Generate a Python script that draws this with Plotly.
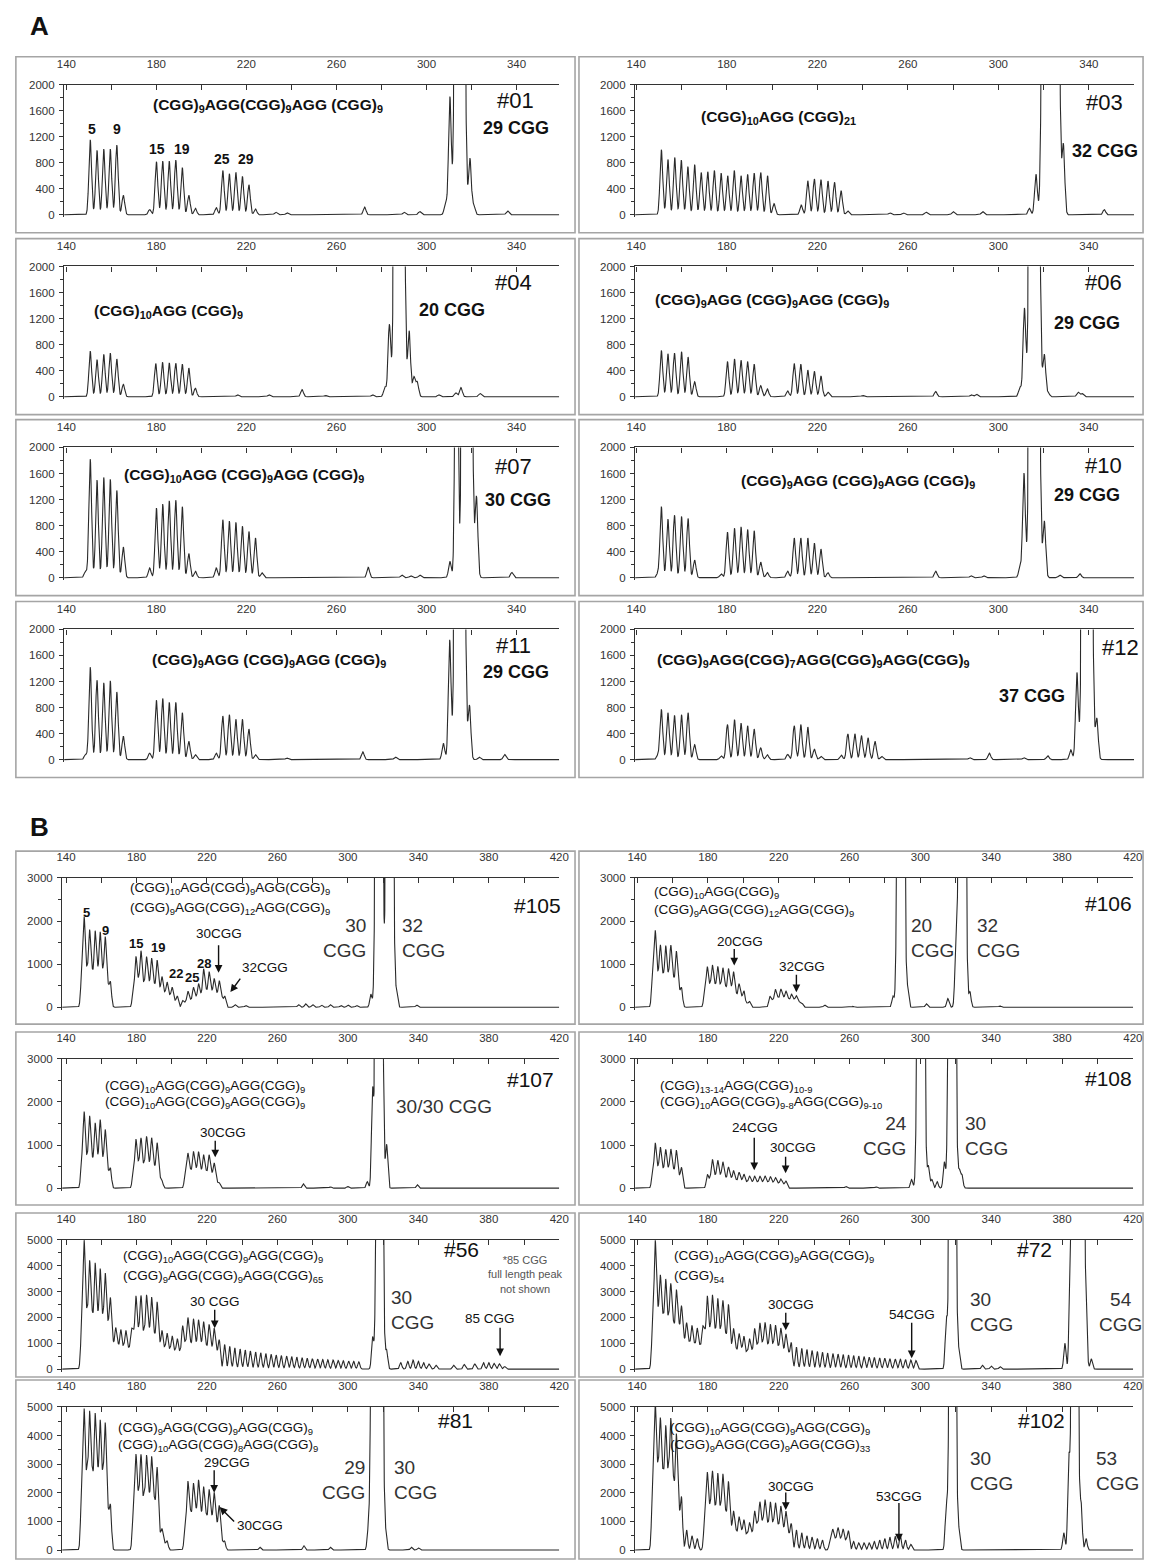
import numpy as np
import plotly.graph_objects as go

# ---------------------------------------------------------------
# Peak tables for each capillary electrophoresis trace
# (fragment size in bp, signal in RFU).  "ladder" = triplet-primed
# repeat ladder and minor peaks, "allele" = full-length (saturated) peaks.
# ---------------------------------------------------------------

# ---- panel A ----
p01_ladder_bp = [150.6, 153.6, 156.6, 159.5, 162.4, 165.3, 177.0, 180.0, 182.8, 185.7, 188.6, 191.5, 194.4, 197.3,
                 206.6, 209.5, 212.4, 215.3, 218.2, 221.1, 224.0, 233.0, 238.0, 272.5, 290.0, 297.0,
                 308.5, 310.4, 319.3, 321.0, 336.0]
p01_ladder_rfu = [1150, 990, 1010, 1010, 1070, 300, 80, 815, 825, 825, 840, 725, 300, 100,
                  110, 680, 630, 650, 590, 460, 90, 40, 30, 120, 40, 50,
                  200, 1800, 860, 150, 60]
p01_allele_bp = [314.8]
p01_allele_rfu = [40000]

p03_ladder_bp = [151.1, 154.0, 157.0, 159.9, 162.8, 165.8, 168.7, 171.6, 174.5, 177.5, 180.4, 183.3, 186.3, 189.2,
                 192.1, 195.0, 198.0, 200.9, 212.9, 215.8, 218.7, 221.6, 224.7, 227.6, 230.5, 233.4,
                 252.0, 258.0, 268.0, 280.0, 293.0, 313.7, 316.6, 328.7, 346.8]
p03_ladder_rfu = [1000, 850, 880, 840, 740, 770, 650, 660, 680, 640, 600, 680, 600, 620,
                  640, 650, 600, 170, 150, 520, 550, 540, 520, 500, 370, 60,
                  30, 30, 40, 50, 50, 100, 620, 1060, 80]
p03_allele_bp = [321.5, 324.6]
p03_allele_rfu = [40000, 40000]

p04_ladder_bp = [150.6, 153.6, 156.6, 159.5, 162.4, 165.3, 179.7, 182.7, 185.7, 188.6, 191.5, 194.4, 197.3,
                 216.0, 230.0, 244.7, 255.0, 276.0, 281.5, 283.5, 292.3, 294.4, 295.9, 305.6, 313.0, 315.3, 323.8]
p04_ladder_rfu = [700, 570, 650, 670, 580, 190, 510, 530, 520, 515, 500, 440, 130,
                  30, 30, 110, 20, 30, 150, 1100, 1000, 300, 220, 30, 60, 140, 50]
p04_allele_bp = [287.9]
p04_allele_rfu = [40000]

p06_ladder_bp = [151.1, 154.0, 156.9, 160.0, 162.9, 165.8, 180.3, 183.4, 186.3, 189.2, 192.1, 195.0, 197.9,
                 206.9, 209.8, 212.7, 215.8, 218.7, 221.6, 224.7, 240.0, 272.3, 288.0, 290.3,
                 309.5, 311.5, 320.3, 322.0, 335.2, 337.0]
p06_ladder_rfu = [710, 660, 670, 690, 610, 230, 540, 580, 560, 540, 500, 170, 120,
                  90, 510, 500, 410, 390, 320, 70, 20, 80, 30, 40,
                  150, 1350, 640, 60, 70, 50]
p06_allele_bp = [315.9]
p06_allele_rfu = [40000]

p07_ladder_bp = [148.5, 150.6, 153.6, 156.6, 159.5, 162.4, 165.3, 177.0, 180.0, 182.8, 185.7, 188.6, 191.5, 194.4,
                 197.3, 206.6, 209.5, 212.4, 215.3, 218.2, 221.1, 224.0, 226.9, 274.1, 289.0, 293.0, 297.0,
                 310.4, 313.3, 322.2, 337.9]
p07_ladder_rfu = [100, 1820, 1500, 1540, 1510, 1340, 470, 150, 1070, 1130, 1180, 1190, 1090, 370,
                  100, 150, 890, 870, 850, 790, 710, 610, 75, 160, 40, 30, 40,
                  250, 6000, 1230, 80]
p07_allele_bp = [318.0]
p07_allele_rfu = [40000]

p10_ladder_bp = [149.5, 151.1, 154.0, 156.9, 160.0, 162.9, 165.8, 177.5, 180.3, 183.4, 186.3, 189.2, 192.1, 195.0,
                 197.9, 206.9, 209.8, 212.7, 215.8, 218.7, 221.6, 224.7, 272.3, 287.9, 293.5,
                 309.5, 311.3, 320.3, 327.1, 336.0]
p10_ladder_rfu = [60, 1090, 900, 960, 940, 910, 270, 60, 700, 760, 780, 740, 720, 240,
                  80, 100, 610, 610, 610, 530, 440, 76, 100, 30, 30,
                  150, 1600, 860, 40, 60]
p10_allele_bp = [315.9]
p10_allele_rfu = [40000]

p11_ladder_bp = [148.5, 150.6, 153.6, 156.6, 159.5, 162.4, 165.3, 177.0, 180.0, 182.8, 185.7, 188.6, 191.5, 194.4,
                 197.3, 206.6, 209.5, 212.4, 215.3, 218.2, 221.1, 224.0, 238.0, 271.7, 286.2,
                 307.5, 310.3, 319.1, 323.4, 334.7]
p11_ladder_rfu = [80, 1420, 1220, 1180, 1210, 1040, 360, 100, 910, 940, 880, 880, 720, 280,
                  76, 100, 670, 690, 620, 620, 470, 76, 25, 120, 40,
                  250, 1830, 820, 40, 80]
p11_allele_bp = [314.8]
p11_allele_rfu = [40000]

p12_ladder_bp = [149.5, 151.1, 154.0, 156.9, 160.0, 162.9, 165.8, 177.5, 180.3, 183.4, 186.3, 189.2, 192.1, 195.0,
                 197.9, 206.9, 209.8, 212.7, 215.8, 218.7, 221.6, 230.6, 233.5, 236.6, 239.5, 242.4, 245.5, 248.4,
                 287.4, 296.0, 311.3, 321.8, 332.0, 334.7, 343.5]
p12_ladder_rfu = [60, 770, 720, 680, 690, 720, 230, 60, 540, 615, 560, 520, 470, 180,
                  77, 80, 520, 540, 500, 160, 50, 70, 395, 395, 370, 335, 280, 50,
                  30, 100, 30, 60, 150, 1330, 620]
p12_allele_bp = [339.2]
p12_allele_rfu = [40000]

# ---- panel B ----
p105_ladder_bp = [150.3, 153.4, 156.5, 159.4, 162.3, 165.2, 148.9, 151.9, 154.9, 157.9, 160.9, 163.8,
                  179.7, 182.6, 185.7, 188.6, 191.7, 194.5, 197.4, 200.3, 203.2,
                  178.2, 181.2, 184.2, 187.1, 190.1, 193.1, 196.0, 198.9, 201.8,
                  206.2, 209.2, 212.3, 215.2, 218.1, 221.2, 224.1, 227.0, 230.1,
                  207.7, 210.7, 213.7, 216.6, 219.6, 222.6, 225.5, 228.5,
                  236.0, 242.0, 272.0, 276.0, 280.0, 285.0, 290.0, 296.0, 300.0, 305.0,
                  313.0, 327.6, 339.0]
p105_ladder_rfu = [2020, 1720, 1690, 1670, 1560, 560, 700, 800, 750, 750, 700, 450,
                   1130, 1250, 1110, 1090, 1050, 670, 550, 440, 250,
                   400, 550, 500, 480, 470, 350, 280, 230, 120,
                   150, 360, 440, 520, 860, 790, 630, 590, 250,
                   100, 150, 200, 250, 350, 320, 270, 220,
                   60, 40, 60, 80, 60, 50, 60, 40, 50, 40,
                   300, 350, 50]
p105_allele_bp = [317.7, 323.7]
p105_allele_rfu = [40000, 40000]

p106_ladder_bp = [150.3, 153.2, 156.2, 159.1, 162.2, 165.1, 148.8, 151.8, 154.7, 157.7, 160.6, 163.6,
                  179.7, 182.6, 185.6, 188.5, 191.6, 194.5, 197.6, 200.4, 203.5,
                  178.2, 181.2, 184.1, 187.1, 190.0, 193.0, 196.0, 199.0, 202.0,
                  215.0, 218.1, 221.2, 224.1, 227.2, 230.0, 233.1, 216.5, 219.6, 222.6, 225.6, 228.6, 231.5,
                  245.9, 262.0, 284.5, 292.8, 303.4, 315.5, 320.0, 328.0, 345.0]
p106_ladder_rfu = [1710, 1360, 1360, 1360, 1250, 440, 700, 650, 650, 650, 600, 400,
                   900, 920, 900, 860, 850, 790, 520, 360, 130,
                   350, 450, 450, 430, 420, 400, 280, 200, 80,
                   250, 400, 400, 360, 290, 250, 90, 150, 200, 200, 180, 150, 120,
                   50, 20, 250, 400, 80, 200, 1170, 350, 30]
p106_allele_bp = [289.0, 323.6]
p106_allele_rfu = [40000, 40000]

p107_ladder_bp = [150.3, 153.4, 156.5, 159.4, 162.3, 165.2, 148.9, 151.9, 154.9, 157.9, 160.9, 163.8,
                  179.7, 182.6, 185.7, 188.6, 191.7, 194.5, 178.2, 181.2, 184.2, 187.1, 190.1, 193.1,
                  209.2, 212.3, 215.2, 218.1, 221.2, 224.1, 227.0, 207.7, 210.7, 213.7, 216.6, 219.6, 222.6, 225.5,
                  274.7, 290.0, 300.0, 311.0, 314.0, 322.0, 339.4]
p107_ladder_rfu = [1710, 1610, 1450, 1530, 1300, 440, 600, 650, 600, 600, 550, 350,
                   1090, 1110, 1140, 1120, 1020, 160, 400, 500, 500, 480, 450, 250,
                   780, 810, 800, 740, 740, 560, 120, 300, 380, 380, 350, 350, 300, 150,
                   100, 30, 40, 150, 2200, 1000, 80]
p107_allele_bp = [317.7]
p107_allele_rfu = [40000]

p108_ladder_bp = [150.3, 153.2, 156.2, 159.1, 162.2, 165.1, 148.8, 151.8, 154.7, 157.7, 160.6, 163.6,
                  179.7, 182.6, 185.6, 188.5, 191.6, 194.5, 197.6, 200.4, 203.5, 206.4, 209.4, 212.3, 215.3,
                  218.2, 221.2, 224.1,
                  181.2, 184.1, 187.1, 190.0, 193.0, 196.0, 199.0, 202.0, 204.9, 207.9, 210.9, 213.8, 216.8,
                  219.7, 222.6,
                  258.0, 275.0, 295.0, 304.5, 306.5, 309.5, 313.5, 322.0, 323.5]
p108_ladder_rfu = [1010, 900, 860, 860, 850, 470, 350, 400, 380, 380, 380, 250,
                   310, 640, 620, 580, 470, 390, 350, 310, 270, 270, 270, 270, 260,
                   230, 200, 160,
                   200, 250, 250, 220, 200, 170, 150, 130, 120, 120, 120, 120, 110,
                   100, 80,
                   40, 30, 200, 500, 200, 150, 600, 400, 300]
p108_allele_bp = [300.3, 317.9]
p108_allele_rfu = [40000, 40000]

p56_ladder_bp = [150.3, 153.4, 156.5, 159.4, 162.3, 165.2, 148.9, 151.9, 154.9, 157.9, 160.9, 163.8,
                 168.2, 171.1, 174.0, 177.0, 166.7, 169.6, 172.6, 175.5,
                 179.7, 182.6, 185.7, 188.6, 191.7, 194.5, 197.4, 200.3, 203.2,
                 178.2, 181.2, 184.2, 187.1, 190.1, 193.1, 196.0, 198.9, 201.8,
                 206.2, 209.2, 212.3, 215.2, 218.1, 221.2, 224.1, 227.0,
                 204.7, 207.7, 210.7, 213.7, 216.6, 219.6, 222.6, 225.5,
                 230.0, 232.9, 235.8, 238.8, 241.7, 244.6, 247.6, 250.5, 253.4, 256.4,
                 259.3, 262.2, 265.2, 268.1, 271.0, 274.0, 276.9, 279.8, 282.8, 285.7,
                 288.6, 291.6, 294.5, 297.4, 300.4, 303.3, 306.2,
                 314.0, 322.0,
                 330.0, 334.0, 337.0, 340.0, 343.0, 346.0, 350.0, 360.0, 366.0, 372.0, 377.0, 380.0, 383.0,
                 386.0, 389.0]
p56_ladder_rfu = [4800, 4000, 3900, 3700, 3500, 2600, 1500, 2000, 1900, 1800, 1700, 1500,
                  1500, 1450, 1400, 1300, 900, 800, 750, 700,
                  2700, 2700, 2700, 2650, 2500, 1400, 1300, 1200, 1100,
                  1200, 1300, 1300, 1300, 1200, 800, 700, 650, 600,
                  1600, 1900, 1850, 1800, 1750, 1650, 1500, 1100,
                  600, 900, 900, 850, 850, 800, 700, 600,
                  950, 880, 820, 780, 740, 700, 660, 630, 600, 570,
                  540, 520, 500, 480, 460, 440, 420, 400, 390, 370,
                  360, 350, 330, 320, 310, 300, 280,
                  1200, 700,
                  250, 300, 350, 300, 250, 200, 150, 150, 180, 200, 250, 250, 220,
                  200, 100]
p56_allele_bp = [318.0]
p56_allele_rfu = [40000]

p72_ladder_bp = [150.3, 153.2, 156.2, 159.1, 162.2, 165.1, 148.8, 151.8, 154.7, 157.7, 160.6, 163.6,
                 168.0, 171.0, 174.0, 177.0, 166.5, 169.5, 172.5, 175.5,
                 179.7, 182.6, 185.6, 188.5, 191.6, 194.5, 197.6, 200.4, 203.5,
                 178.2, 181.2, 184.1, 187.1, 190.0, 193.0, 196.0, 199.0, 202.0,
                 206.4, 209.4, 212.3, 215.3, 218.2, 221.2, 224.1, 227.1,
                 204.9, 207.9, 210.9, 213.8, 216.8, 219.7, 222.6, 225.6,
                 230.0, 233.0, 235.9, 238.8, 241.8, 244.7, 247.6, 250.6, 253.5, 256.4,
                 259.4, 262.3, 265.2, 268.2, 271.1, 274.0, 277.0, 279.9, 282.8, 285.8,
                 288.7, 291.6, 294.6, 297.5,
                 314.6, 321.8, 335.0, 340.0, 345.0, 381.6, 384.6, 393.6, 396.5]
p72_ladder_rfu = [4800, 3400, 3300, 3100, 2900, 2300, 1500, 1900, 1800, 1700, 1600, 1500,
                  1700, 1600, 1500, 1400, 1000, 900, 850, 800,
                  2700, 2700, 2600, 2500, 2400, 1500, 1300, 1200, 1100,
                  1200, 1300, 1300, 1250, 1200, 800, 700, 650, 600,
                  1500, 1700, 1700, 1650, 1600, 1500, 1300, 1000,
                  600, 800, 850, 800, 800, 750, 650, 550,
                  850, 800, 760, 720, 680, 650, 620, 600, 580, 560,
                  540, 520, 500, 480, 460, 450, 430, 420, 400, 390,
                  380, 370, 350, 330,
                  1800, 600, 150, 120, 100, 1000, 3800, 2000, 400]
p72_allele_bp = [318.2, 387.6, 390.6]
p72_allele_rfu = [40000, 40000, 40000]

p81_ladder_bp = [150.3, 153.4, 156.5, 159.4, 162.3, 165.2, 148.9, 151.9, 154.9, 157.9, 160.9, 163.8,
                 179.7, 182.6, 185.7, 188.6, 191.7, 194.5, 197.4, 178.2, 181.2, 184.2, 187.1, 190.1, 193.1, 196.0,
                 209.2, 212.3, 215.2, 218.1, 221.2, 224.1, 227.0, 230.0,
                 207.7, 210.7, 213.7, 216.6, 219.6, 222.6, 225.5, 228.5,
                 250.0, 275.0, 290.0, 311.5, 321.5, 336.0, 340.0]
p81_ladder_rfu = [4700, 4600, 4500, 4300, 4200, 1500, 2000, 2500, 2500, 2400, 2300, 1200,
                  3200, 3150, 3100, 3100, 2800, 700, 300, 1200, 1700, 1700, 1650, 1600, 500, 200,
                  2300, 2200, 2300, 2100, 2000, 1900, 1500, 300,
                  900, 1200, 1200, 1100, 1100, 1000, 800, 300,
                  100, 150, 100, 600, 500, 100, 80]
p81_allele_bp = [315.0, 318.0]
p81_allele_rfu = [40000, 40000]

p102_ladder_bp = [150.3, 153.2, 156.2, 159.1, 162.2, 165.1, 148.8, 151.8, 154.7, 157.7, 160.6, 163.6,
                  168.0, 171.0, 174.0,
                  179.7, 182.6, 185.6, 188.5, 191.6, 194.5, 197.6, 200.4, 203.5,
                  178.2, 181.2, 184.1, 187.1, 190.0, 193.0, 196.0, 199.0, 202.0,
                  206.4, 209.4, 212.3, 215.3, 218.2, 221.2, 224.1, 227.1,
                  204.9, 207.9, 210.9, 213.8, 216.8, 219.7, 222.6, 225.6,
                  230.0, 233.0, 235.9, 238.8, 241.8, 244.7,
                  250.5, 253.5, 256.4, 259.4, 249.0, 252.0, 255.0, 258.0,
                  262.3, 265.2, 268.2, 271.1, 274.0, 277.0, 279.9, 282.8, 285.8, 288.7, 291.6, 294.6,
                  314.6, 321.8, 381.0, 383.8, 390.8, 393.6]
p102_ladder_rfu = [4900, 4300, 4100, 4300, 3900, 1800, 2000, 2500, 2400, 2400, 2200, 1200,
                   700, 500, 400,
                   2600, 2600, 2550, 2500, 2300, 1300, 1100, 1000, 900,
                   1000, 1300, 1300, 1250, 1200, 700, 600, 550, 500,
                   1300, 1600, 1650, 1600, 1550, 1450, 1300, 900,
                   500, 800, 850, 800, 800, 750, 650, 500,
                   700, 600, 500, 450, 400, 350,
                   700, 750, 700, 650, 300, 350, 330, 300,
                   300, 250, 250, 250, 300, 350, 400, 450, 480, 500, 350, 200,
                   1500, 600, 600, 3000, 1500, 400]
p102_allele_bp = [318.2, 387.2]
p102_allele_rfu = [40000, 40000]

# ---------------------------------------------------------------
# Page geometry (pixels)
# ---------------------------------------------------------------
W, H = 1156, 1563
FONT = "Liberation Sans, Arial, Helvetica, sans-serif"
TICKFONT = dict(family=FONT, size=11.5, color="#333333")

# per row: (axis top, plot height, box top, box bottom)
SECTIONS = {
    "A": dict(cols=[(57, 560, 139.0, 359.0), (637, 1144, 139.5, 360.0)],
              rows=[(79, 131, 51, 228), (262, 131, 234, 411), (444, 131, 416, 593), (627, 131, 599, 776)],
              sd=0.6),
    "B": dict(cols=[(55, 560, 137.8, 420.0), (637, 1143, 138.9, 420.2)],
              rows=[(877, 130, 850, 1024), (1059, 130, 1032, 1206), (1241, 130, 1214, 1379),
                    (1409, 144, 1382, 1562)],
              sd=0.62),
}
BOX_X = [(8, 576), (580, 1153)]

PANELS = [
    ("A", 0, 0, 2000, p01_ladder_bp, p01_ladder_rfu, p01_allele_bp, p01_allele_rfu),
    ("A", 0, 1, 2000, p03_ladder_bp, p03_ladder_rfu, p03_allele_bp, p03_allele_rfu),
    ("A", 1, 0, 2000, p04_ladder_bp, p04_ladder_rfu, p04_allele_bp, p04_allele_rfu),
    ("A", 1, 1, 2000, p06_ladder_bp, p06_ladder_rfu, p06_allele_bp, p06_allele_rfu),
    ("A", 2, 0, 2000, p07_ladder_bp, p07_ladder_rfu, p07_allele_bp, p07_allele_rfu),
    ("A", 2, 1, 2000, p10_ladder_bp, p10_ladder_rfu, p10_allele_bp, p10_allele_rfu),
    ("A", 3, 0, 2000, p11_ladder_bp, p11_ladder_rfu, p11_allele_bp, p11_allele_rfu),
    ("A", 3, 1, 2000, p12_ladder_bp, p12_ladder_rfu, p12_allele_bp, p12_allele_rfu),
    ("B", 0, 0, 3000, p105_ladder_bp, p105_ladder_rfu, p105_allele_bp, p105_allele_rfu),
    ("B", 0, 1, 3000, p106_ladder_bp, p106_ladder_rfu, p106_allele_bp, p106_allele_rfu),
    ("B", 1, 0, 3000, p107_ladder_bp, p107_ladder_rfu, p107_allele_bp, p107_allele_rfu),
    ("B", 1, 1, 3000, p108_ladder_bp, p108_ladder_rfu, p108_allele_bp, p108_allele_rfu),
    ("B", 2, 0, 5000, p56_ladder_bp, p56_ladder_rfu, p56_allele_bp, p56_allele_rfu),
    ("B", 2, 1, 5000, p72_ladder_bp, p72_ladder_rfu, p72_allele_bp, p72_allele_rfu),
    ("B", 3, 0, 5000, p81_ladder_bp, p81_ladder_rfu, p81_allele_bp, p81_allele_rfu),
    ("B", 3, 1, 5000, p102_ladder_bp, p102_ladder_rfu, p102_allele_bp, p102_allele_rfu),
]
ALLELE_SD = 1.1


def peak_sum(grid, centers, heights, sd):
    c = np.asarray(centers, dtype=float)[:, None]
    h = np.asarray(heights, dtype=float)[:, None]
    return (h * np.exp(-0.5 * ((grid[None, :] - c) / sd) ** 2)).sum(axis=0)


fig = go.Figure()
layout = dict(width=W, height=H, margin=dict(l=0, r=0, t=0, b=0),
              paper_bgcolor="white", plot_bgcolor="white", showlegend=False)
shapes, annotations = [], []

for i, (sec, row, col, ymax, lbp, lrfu, abp, arfu) in enumerate(PANELS, start=1):
    S = SECTIONS[sec]
    x0, x1, r0, r1 = S["cols"][col]
    top, h, btop, bbot = S["rows"][row]
    pad = 0.02
    bottom = top + h * (1 + pad)
    grid = np.arange(r0, r1, 0.05)
    signal = peak_sum(grid, lbp, lrfu, S["sd"]) + peak_sum(grid, abp, arfu, ALLELE_SD)
    sfx = "" if i == 1 else str(i)
    fig.add_trace(go.Scatter(x=grid, y=signal, mode="lines", xaxis="x" + sfx, yaxis="y" + sfx,
                             line=dict(color="#2a2a2a", width=1.1), hoverinfo="skip"))
    layout["xaxis" + sfx] = dict(
        domain=[x0 / W, x1 / W], range=[r0, r1], anchor="y" + sfx, side="top",
        showline=True, linecolor="#333333", linewidth=1.3, showgrid=False, zeroline=False,
        tickmode="linear", tick0=140, dtick=40, ticks="inside", ticklen=5, tickcolor="#333333",
        tickfont=TICKFONT, ticklabelstandoff=11,
        minor=dict(ticks="inside", ticklen=5, tickcolor="#333333", tick0=140, dtick=20, showgrid=False))
    ystep = 400 if ymax == 2000 else 1000
    layout["yaxis" + sfx] = dict(
        domain=[1 - bottom / H, 1 - top / H], range=[-pad * ymax, ymax], anchor="x" + sfx,
        showline=True, linecolor="#333333", linewidth=1.3, showgrid=False, zeroline=False,
        tickmode="linear", tick0=0, dtick=ystep, ticks="outside", ticklen=4, tickcolor="#333333",
        tickfont=TICKFONT, ticklabelstandoff=2,
        minor=dict(ticks="outside", ticklen=3, tickcolor="#333333", tick0=0, dtick=ystep / 2,
                   showgrid=False))
    bx0, bx1 = BOX_X[col]
    shapes.append(dict(type="rect", xref="paper", yref="paper", layer="below",
                       x0=bx0 / W, x1=bx1 / W, y0=1 - bbot / H, y1=1 - btop / H,
                       line=dict(color="#a5a5a5", width=1.6), fillcolor="rgba(0,0,0,0)"))


def label(x, y, text, size, bold=False, anchor="center", color="#111111"):
    if bold:
        text = "<b>" + text + "</b>"
    annotations.append(dict(x=x / W, y=1 - y / H, xref="paper", yref="paper", text=text,
                            showarrow=False, xanchor=anchor, yanchor="middle", align=anchor,
                            font=dict(family=FONT, size=size, color=color)))


def arrow(panel, bp, rfu, ax, ay):
    sfx = "" if panel == 1 else str(panel)
    annotations.append(dict(x=bp, y=rfu, xref="x" + sfx, yref="y" + sfx, text="", showarrow=True,
                            ax=ax, ay=ay, arrowhead=2, arrowsize=1.1, arrowwidth=1.4,
                            arrowcolor="#111111", standoff=0, startstandoff=0))


def sub(s):
    return "<sub>" + s + "</sub>"


# section letters
label(20, 20, "A", 26, bold=True, anchor="left")
label(20, 826, "B", 26, bold=True, anchor="left")

# ---- A labels ----
FA, NA, CA, LA = 15.5, 22, 18, 14
label(264, 100, "(CGG)" + sub("9") + "AGG(CGG)" + sub("9") + "AGG (CGG)" + sub("9"), FA, bold=True)
for x, y, t in [(85, 124, "5"), (111, 124, "9"), (151, 144, "15"), (177, 144, "19"),
                (217, 154, "25"), (242, 154, "29")]:
    label(x, y, t, LA, bold=True)
label(516, 95, "#01", NA)
label(516, 123, "29 CGG", CA, bold=True)

label(783, 112, "(CGG)" + sub("10") + "AGG (CGG)" + sub("21"), FA, bold=True)
label(1114, 97, "#03", NA)
label(1114, 146, "32 CGG", CA, bold=True)

label(163, 307, "(CGG)" + sub("10") + "AGG (CGG)" + sub("9"), FA, bold=True)
label(514, 278, "#04", NA)
label(451, 306, "20 CGG", CA, bold=True)

label(776, 296, "(CGG)" + sub("9") + "AGG (CGG)" + sub("9") + "AGG (CGG)" + sub("9"), FA, bold=True)
label(1113, 278, "#06", NA)
label(1096, 319, "29 CGG", CA, bold=True)

label(240, 472, "(CGG)" + sub("10") + "AGG (CGG)" + sub("9") + "AGG (CGG)" + sub("9"), FA, bold=True)
label(514, 463, "#07", NA)
label(518, 497, "30 CGG", CA, bold=True)

label(863, 478, "(CGG)" + sub("9") + "AGG (CGG)" + sub("9") + "AGG (CGG)" + sub("9"), FA, bold=True)
label(1113, 462, "#10", NA)
label(1096, 492, "29 CGG", CA, bold=True)

label(265, 658, "(CGG)" + sub("9") + "AGG (CGG)" + sub("9") + "AGG (CGG)" + sub("9"), FA, bold=True)
label(514, 643, "#11", NA)
label(516, 670, "29 CGG", CA, bold=True)

label(818, 658, "(CGG)" + sub("9") + "AGG(CGG)" + sub("7") + "AGG(CGG)" + sub("9") + "AGG(CGG)" + sub("9"),
      FA, bold=True)
label(1130, 645, "#12", NA)
label(1040, 694, "37 CGG", CA, bold=True)

# ---- B labels ----
FB, NB, CB, SB = 13.5, 21, 19, 13.5
GREY = "#333333"

# #105
label(122, 888, "(CGG)" + sub("10") + "AGG(CGG)" + sub("9") + "AGG(CGG)" + sub("9"), FB, anchor="left")
label(122, 908, "(CGG)" + sub("9") + "AGG(CGG)" + sub("12") + "AGG(CGG)" + sub("9"), FB, anchor="left")
for x, y, t in [(80, 912, "5"), (99, 930, "9"), (130, 943, "15"), (152, 947, "19"),
                (171, 973, "22"), (187, 977, "25"), (199, 963, "28")]:
    label(x, y, t, 13, bold=True)
label(214, 933, "30CGG", SB)
arrow(9, 226.6, 800, 0, -29)
label(261, 967, "32CGG", SB)
arrow(9, 233.3, 350, 11, -15)
label(366, 937, "30<br>CGG", CB, anchor="right", color=GREY)
label(398, 937, "32<br>CGG", CB, anchor="left", color=GREY)
label(538, 905, "#105", NB)

# #106
label(654, 892, "(CGG)" + sub("10") + "AGG(CGG)" + sub("9"), FB, anchor="left")
label(654, 910, "(CGG)" + sub("9") + "AGG(CGG)" + sub("12") + "AGG(CGG)" + sub("9"), FB, anchor="left")
label(744, 941, "20CGG", SB)
arrow(10, 194.9, 969, 0, -18)
label(807, 966, "32CGG", SB)
arrow(10, 230.0, 346, 0, -19)
label(915, 937, "20<br>CGG", CB, anchor="left", color=GREY)
label(982, 937, "32<br>CGG", CB, anchor="left", color=GREY)
label(1118, 903, "#106", NB)

# #107
label(97, 1087, "(CGG)" + sub("10") + "AGG(CGG)" + sub("9") + "AGG(CGG)" + sub("9"), FB, anchor="left")
label(97, 1103, "(CGG)" + sub("10") + "AGG(CGG)" + sub("9") + "AGG(CGG)" + sub("9"), FB, anchor="left")
label(218, 1133, "30CGG", SB)
arrow(11, 224.7, 715, 0, -18)
label(443, 1107, "30/30 CGG", CB, color=GREY)
label(531, 1080, "#107", NB)

# #108
label(660, 1087, "(CGG)" + sub("13-14") + "AGG(CGG)" + sub("10-9"), FB, anchor="left")
label(660, 1103, "(CGG)" + sub("10") + "AGG(CGG)" + sub("9-8") + "AGG(CGG)" + sub("9-10"), FB, anchor="left")
label(759, 1128, "24CGG", SB)
arrow(12, 206.2, 415, 0, -34)
label(797, 1148, "30CGG", SB)
arrow(12, 223.9, 346, 0, -18)
label(915, 1137, "24<br>CGG", CB, anchor="right", color=GREY)
label(970, 1137, "30<br>CGG", CB, anchor="left", color=GREY)
label(1118, 1079, "#108", NB)

# #56
label(115, 1258, "(CGG)" + sub("10") + "AGG(CGG)" + sub("9") + "AGG(CGG)" + sub("9"), FB, anchor="left")
label(115, 1278, "(CGG)" + sub("9") + "AGG(CGG)" + sub("9") + "AGG(CGG)" + sub("65"), FB, anchor="left")
label(210, 1303, "30 CGG", SB)
arrow(13, 224.4, 1580, 0, -20)
label(387, 1312, "30<br>CGG", CB, anchor="left", color=GREY)
label(461, 1251, "#56", NB)
label(525, 1276, "*85 CGG<br>full length peak<br>not shown", 11, color="#555555")
label(490, 1320, "85 CGG", SB)
arrow(13, 386.4, 500, 0, -30)

# #72
label(675, 1258, "(CGG)" + sub("10") + "AGG(CGG)" + sub("9") + "AGG(CGG)" + sub("9"), FB, anchor="left")
label(675, 1278, "(CGG)" + sub("54"), FB, anchor="left")
label(795, 1306, "30CGG", SB)
arrow(14, 224.0, 1500, 0, -19)
label(918, 1316, "54CGG", SB)
arrow(14, 295.1, 420, 0, -37)
label(975, 1314, "30<br>CGG", CB, anchor="left", color=GREY)
label(1130, 1314, "54<br>CGG", CB, color=GREY)
label(1043, 1251, "#72", NB)

# #81
label(110, 1431, "(CGG)" + sub("9") + "AGG(CGG)" + sub("9") + "AGG(CGG)" + sub("9"), FB, anchor="left")
label(110, 1448, "(CGG)" + sub("10") + "AGG(CGG)" + sub("8") + "AGG(CGG)" + sub("9"), FB, anchor="left")
label(222, 1465, "29CGG", SB)
arrow(15, 224.1, 2000, 0, -24)
label(256, 1528, "30CGG", SB)
arrow(15, 227.2, 1500, 16, 16)
label(365, 1483, "29<br>CGG", CB, anchor="right", color=GREY)
label(390, 1483, "30<br>CGG", CB, anchor="left", color=GREY)
label(455, 1423, "#81", NB)

# #102
label(670, 1431, "(CGG)" + sub("10") + "AGG(CGG)" + sub("9") + "AGG(CGG)" + sub("9"), FB, anchor="left")
label(670, 1448, "(CGG)" + sub("9") + "AGG(CGG)" + sub("9") + "AGG(CGG)" + sub("33"), FB, anchor="left")
label(795, 1489, "30CGG", SB)
arrow(16, 224.0, 1400, 0, -19)
label(905, 1499, "53CGG", SB)
arrow(16, 287.9, 300, 0, -40)
label(975, 1473, "30<br>CGG", CB, anchor="left", color=GREY)
label(1103, 1473, "53<br>CGG", CB, anchor="left", color=GREY)
label(1050, 1423, "#102", NB)

layout["shapes"] = shapes
layout["annotations"] = annotations
fig.update_layout(**layout)
fig.write_html("out.html")
